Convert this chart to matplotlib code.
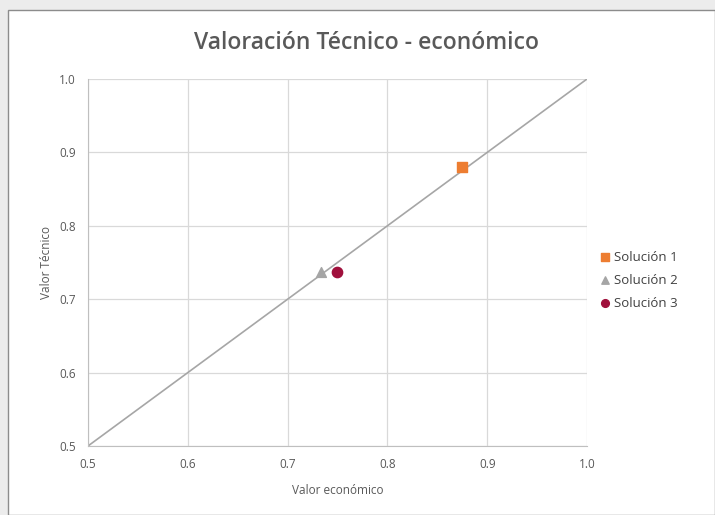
import matplotlib
matplotlib.use("Agg")
import matplotlib.pyplot as plt
from matplotlib.patches import Rectangle

plt.rcParams['font.family'] = ['Open Sans', 'DejaVu Sans']

series_names = ["Solución 1", "Solución 2", "Solución 3"]
x_vals = [0.875, 0.733, 0.749]
y_vals = [0.880, 0.737, 0.737]
markers = ["s", "^", "o"]
colors = ["#ED7D31", "#A5A5A5", "#A0103C"]
ref_line = [0.5, 1.0]
ticks = [0.5, 0.6, 0.7, 0.8, 0.9, 1.0]
tick_labels = ["0.5", "0.6", "0.7", "0.8", "0.9", "1.0"]

fig = plt.figure(figsize=(7.15, 5.15), dpi=100)
fig.patch.set_facecolor("#ececec")
fig.patches.append(Rectangle((8/715, 0), 1 - 8/715, 1 - 10/515, transform=fig.transFigure,
                             facecolor="white", edgecolor="#8c8c8c", linewidth=1.0, zorder=-10))

ax = fig.add_axes([88/715, 1 - 446/515, (587 - 88)/715, (446 - 79)/515])
ax.set_facecolor("white")
ax.plot(ref_line, ref_line, color="#a6a6a6", lw=1.2, zorder=2)
for n, xv, yv, m, c in zip(series_names, x_vals, y_vals, markers, colors):
    ax.scatter([xv], [yv], marker=m, s=55 if m != "^" else 50, color=c, label=n, zorder=3)

ax.set_xlim(0.5, 1.0)
ax.set_ylim(0.5, 1.0)
ax.set_xticks(ticks)
ax.set_xticklabels(tick_labels)
ax.set_yticks(ticks)
ax.set_yticklabels(tick_labels)
ax.grid(True, color="#d9d9d9", lw=0.9)
ax.set_axisbelow(True)
for s in ["top", "right"]:
    ax.spines[s].set_visible(False)
for s in ["left", "bottom"]:
    ax.spines[s].set_color("#bfbfbf")
ax.tick_params(length=0, colors="#595959", labelsize=8.5, pad=9)
ax.set_xlabel("Valor económico", color="#595959", fontsize=8.5, labelpad=9)
ax.set_ylabel("Valor Técnico", color="#595959", fontsize=8.5, labelpad=4)

fig.text(366 / 715, 1 - 43/515, "Valoración Técnico - económico",
         ha="center", va="center", fontsize=16.5, color="#595959", fontweight="semibold")

leg = ax.legend(loc="center left", bbox_to_anchor=(1.0 + 6/499, 0.452), frameon=False,
                fontsize=9.5, handletextpad=0.2, labelspacing=0.75, markerscale=0.75,
                handlelength=1.0, borderaxespad=0.0)
for t in leg.get_texts():
    t.set_color("#404040")

fig.savefig("out.png", dpi=100, facecolor=fig.get_facecolor())
